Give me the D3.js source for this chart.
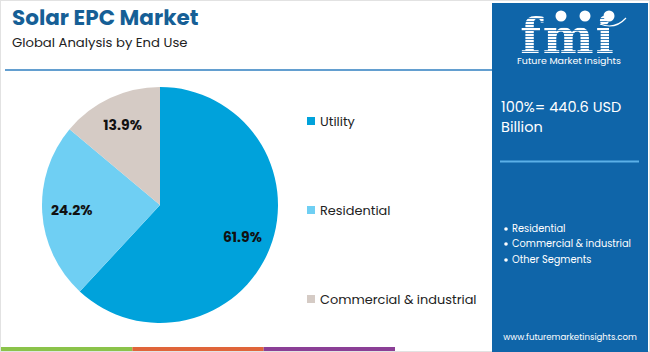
<!DOCTYPE html>
<html>
<head>
<meta charset="utf-8">
<script src="https://cdn.jsdelivr.net/npm/d3@7"></script>
<style>
  body { margin: 0; background: #fff; }
  svg { display: block; font-family: Poppins, Inter, "Noto Sans", sans-serif; }
</style>
</head>
<body>
<div id="wrapper"></div>
<script>
/// Data ///
const categories = ["Utility", "Residential", "Commercial & industrial"];
const shares = [61.9, 24.2, 13.9];
const colours = ["#00a2db", "#6fcff3", "#d5cbc5"];
const panelBullets = ["Residential", "Commercial & industrial", "Other Segments"];
const totalLabel = ["100%= 440.6 USD", "Billion"];
const stripeColours = ["#8bc34a", "#e0653a", "#8b3f96"];

/// Dimensions ///
const width = 650;
const height = 352;
const pieCentre = { x: 160, y: 205 };
const radius = 118;
const panel = { x: 492, y: 3, w: 156, h: 349 };

const svg = d3.select("#wrapper").append("svg")
  .attr("width", width)
  .attr("height", height);

// frame
svg.append("rect")
  .attr("x", 0.5).attr("y", 0.5)
  .attr("width", width - 1).attr("height", height - 1)
  .attr("fill", "#fff").attr("stroke", "#e2e2e2");

/// Title ///
svg.append("text")
  .attr("x", 12).attr("y", 24.5)
  .attr("font-size", 21.5).attr("font-weight", 700)
  .attr("fill", "#165f96")
  .text("Solar EPC Market");
svg.append("text")
  .attr("x", 12).attr("y", 46.5)
  .attr("font-size", 13.2)
  .attr("fill", "#222")
  .text("Global Analysis by End Use");
svg.append("line")
  .attr("x1", 5).attr("x2", panel.x)
  .attr("y1", 70).attr("y2", 70)
  .attr("stroke", "#2f7fc1").attr("stroke-width", 1.5);

/// Pie ///
const data = categories.map((c, i) => ({ name: c, value: shares[i], colour: colours[i] }));
const pie = d3.pie().value(d => d.value).sort(null);
const arc = d3.arc().innerRadius(0).outerRadius(radius);
const labelArc = d3.arc().innerRadius(radius * 0.75).outerRadius(radius * 0.75);

const g = svg.append("g")
  .attr("transform", `translate(${pieCentre.x}, ${pieCentre.y})`);

const arcs = pie(data);
g.selectAll("path")
  .data(arcs)
  .join("path")
    .attr("d", arc)
    .attr("fill", d => d.data.colour);

g.selectAll("text")
  .data(arcs)
  .join("text")
    .attr("transform", d => `translate(${labelArc.centroid(d)})`)
    .attr("text-anchor", "middle")
    .attr("dy", "0.35em")
    .attr("font-size", 14)
    .attr("font-weight", 700)
    .attr("fill", "#111")
    .text(d => d3.format(".1f")(d.data.value) + "%");

/// Legend ///
const legendY = d3.scalePoint()
  .domain(categories)
  .range([121, 299]);

const legend = svg.append("g")
  .selectAll("g")
  .data(data)
  .join("g")
    .attr("transform", d => `translate(307, ${legendY(d.name)})`);
legend.append("rect")
  .attr("x", 0).attr("y", -4)
  .attr("width", 8).attr("height", 8)
  .attr("fill", d => d.colour);
legend.append("text")
  .attr("x", 13).attr("dy", "0.35em")
  .attr("font-size", 12.9)
  .attr("fill", "#222")
  .text(d => d.name);

/// Bottom stripe ///
const stripeX = d3.scaleBand()
  .domain(d3.range(stripeColours.length))
  .range([1, 395]);
svg.append("g")
  .selectAll("rect")
  .data(stripeColours)
  .join("rect")
    .attr("x", (d, i) => stripeX(i))
    .attr("y", 347)
    .attr("width", stripeX.bandwidth())
    .attr("height", 4)
    .attr("fill", d => d);

/// Side panel ///
svg.append("rect")
  .attr("x", panel.x).attr("y", panel.y)
  .attr("width", panel.w).attr("height", panel.h)
  .attr("fill", "#0f65a9");

// logo: striped letters drawn through a text mask
const mask = svg.append("defs").append("mask").attr("id", "fmi-mask");
mask.append("text")
  .attr("x", 568).attr("y", 53)
  .attr("text-anchor", "middle")
  .attr("font-family", "'DejaVu Serif', serif")
  .attr("font-size", 48).attr("font-weight", 700)
  .attr("letter-spacing", 2)
  .attr("fill", "#fff")
  .text("fmi");
const logo = svg.append("g");
logo.append("g")
  .attr("mask", "url(#fmi-mask)")
  .selectAll("rect")
  .data(d3.range(16, 56, 3))
  .join("rect")
    .attr("x", 510).attr("width", 120)
    .attr("y", d => d).attr("height", 2.2)
    .attr("fill", "#fff");
logo.selectAll("circle")
  .data([561, 585, 609])
  .join("circle")
    .attr("cx", d => d).attr("cy", 16)
    .attr("r", 5.5)
    .attr("fill", "#fff");
logo.append("path")
  .attr("d", "M600,24 Q615,30 626,18")
  .attr("fill", "none").attr("stroke", "#fff").attr("stroke-width", 1.2);
logo.append("text")
  .attr("x", 569).attr("y", 64)
  .attr("text-anchor", "middle")
  .attr("font-size", 9.5)
  .attr("fill", "#fff")
  .text("Future Market Insights");

svg.append("g")
  .selectAll("text")
  .data(totalLabel)
  .join("text")
    .attr("x", 501)
    .attr("y", (d, i) => 112 + i * 20)
    .attr("font-size", 14.5)
    .attr("fill", "#fff")
    .text(d => d);

svg.append("line")
  .attr("x1", 500).attr("x2", 639)
  .attr("y1", 161.5).attr("y2", 161.5)
  .attr("stroke", "#5bb0e8").attr("stroke-width", 2);

const bulletY = [229, 244, 260];
const bullets = svg.append("g")
  .selectAll("g")
  .data(panelBullets)
  .join("g")
    .attr("transform", (d, i) => `translate(506, ${bulletY[i]})`);
bullets.append("circle")
  .attr("r", 1.8).attr("fill", "#fff");
bullets.append("text")
  .attr("x", 6).attr("dy", "0.35em")
  .attr("font-size", 9.8)
  .attr("fill", "#fff")
  .text(d => d);

svg.append("text")
  .attr("x", 570).attr("y", 337)
  .attr("dy", "0.35em")
  .attr("text-anchor", "middle")
  .attr("font-size", 8.6)
  .attr("fill", "#fff")
  .text("www.futuremarketinsights.com");
</script>
</body>
</html>
